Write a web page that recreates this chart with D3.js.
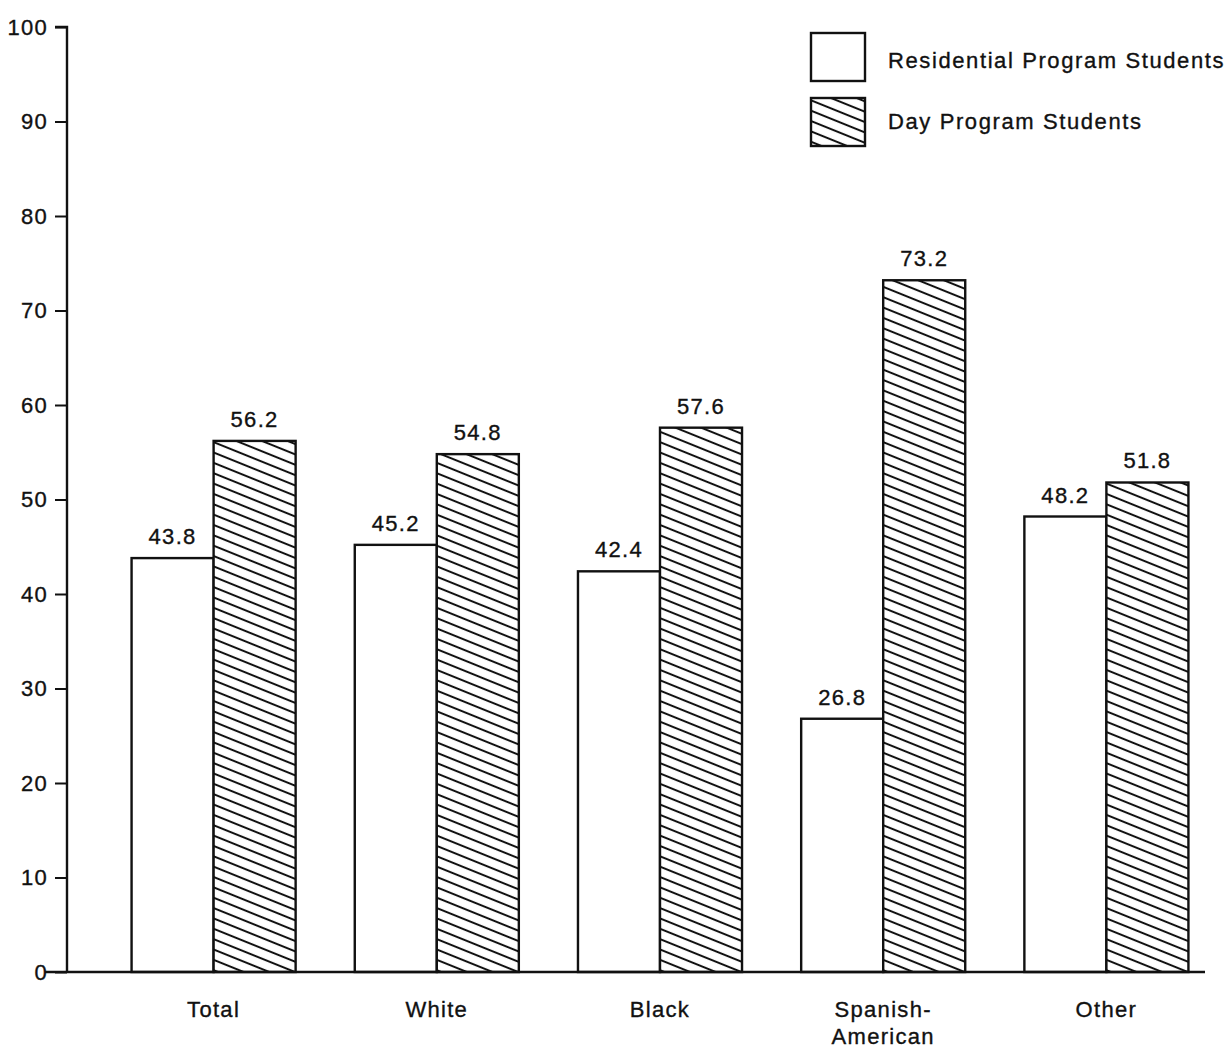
<!DOCTYPE html>
<html>
<head>
<meta charset="utf-8">
<script src="https://cdn.jsdelivr.net/npm/d3@7"></script>
<style>
  html, body { margin: 0; padding: 0; background: #fff; }
  svg { display: block; font-family: "Liberation Sans", Arial, Helvetica, sans-serif; }
  text { fill: #111; stroke: #111; stroke-width: 0.35; }
</style>
</head>
<body>
<svg id="chart" width="1230" height="1049"></svg>
<script>
// Ethnic groups along the x axis (a label may wrap onto two lines)
const categories = ["Total", "White", "Black", "Spanish-American", "Other"];
const categoryLines = [["Total"], ["White"], ["Black"], ["Spanish-", "American"], ["Other"]];
// Percent of students in each program
const residential = [43.8, 45.2, 42.4, 26.8, 48.2];
const dayProgram = [56.2, 54.8, 57.6, 73.2, 51.8];
const seriesNames = ["Residential Program Students", "Day Program Students"];
const yTicks = [0, 10, 20, 30, 40, 50, 60, 70, 80, 90, 100];

const svg = d3.select("#chart");

const plotTop = 27, plotBottom = 972, axisX = 67;
const fontSize = 22, tracking = 1.3;

const y = d3.scaleLinear().domain([0, 100]).range([plotBottom, plotTop]);
const x0 = d3.scaleBand().domain(categories).range([102, 1218])
  .paddingInner(0.265).paddingOuter(0.1325);
const x1 = d3.scaleBand().domain(["res", "day"]).range([0, x0.bandwidth()]);

// Diagonal hatching for the day-program bars
const defs = svg.append("defs");
const pat = defs.append("pattern")
  .attr("id", "hatch")
  .attr("patternUnits", "userSpaceOnUse")
  .attr("width", 20).attr("height", 9.6)
  .attr("patternTransform", "rotate(22)");
pat.append("rect").attr("width", 20).attr("height", 9.6).attr("fill", "#fff");
pat.append("line").attr("x1", -1).attr("x2", 21).attr("y1", 4.8).attr("y2", 4.8)
  .attr("stroke", "#111").attr("stroke-width", 2);

// Y axis
const yAxis = d3.axisLeft(y).tickValues(yTicks).tickSize(12).tickPadding(7);
const gy = svg.append("g").attr("transform", `translate(${axisX},0)`).call(yAxis);
gy.select(".domain").attr("stroke", "#111").attr("stroke-width", 2.4)
  .attr("d", `M-12,${plotTop}H0V${plotBottom}`);
gy.selectAll(".tick line").attr("stroke", "#111").attr("stroke-width", 2);
gy.selectAll(".tick text")
  .attr("font-size", fontSize)
  .attr("font-family", "'Liberation Sans', Arial, sans-serif")
  .attr("fill", "#111")
  .style("letter-spacing", tracking + "px");

// Bars
const groups = svg.append("g").selectAll("g")
  .data(categories)
  .join("g")
  .attr("transform", d => `translate(${x0(d)},0)`);

groups.each(function(c, i) {
  const g = d3.select(this);
  const vals = [["res", residential[i]], ["day", dayProgram[i]]];
  vals.forEach(([k, v]) => {
    g.append("rect")
      .attr("x", x1(k))
      .attr("y", y(v))
      .attr("width", x1.bandwidth())
      .attr("height", y(0) - y(v))
      .attr("fill", k === "day" ? "url(#hatch)" : "#fff")
      .attr("stroke", "#111")
      .attr("stroke-width", 2.4);
    g.append("text")
      .attr("x", x1(k) + x1.bandwidth() / 2)
      .attr("y", y(v) - 14)
      .attr("text-anchor", "middle")
      .attr("font-size", fontSize)
      .style("letter-spacing", tracking + "px")
      .text(v.toFixed(1));
  });
});

// Baseline
svg.append("line")
  .attr("x1", 45).attr("x2", 1205)
  .attr("y1", y(0)).attr("y2", y(0))
  .attr("stroke", "#111").attr("stroke-width", 2.4);

// Category labels
groups.append("text")
  .attr("text-anchor", "middle")
  .attr("font-size", fontSize)
  .style("letter-spacing", tracking + "px")
  .each(function(c, i) {
    const t = d3.select(this);
    categoryLines[i].forEach((line, j) => {
      t.append("tspan")
        .attr("x", x0.bandwidth() / 2)
        .attr("y", plotBottom + 45 + j * 27)
        .text(line);
    });
  });

// Legend
const legend = svg.append("g").attr("transform", "translate(811,33)");
seriesNames.forEach((name, i) => {
  const ly = i * 65;
  legend.append("rect")
    .attr("x", 0).attr("y", ly)
    .attr("width", 54).attr("height", 48)
    .attr("fill", i === 1 ? "url(#hatch)" : "#fff")
    .attr("stroke", "#111").attr("stroke-width", 2.4);
  legend.append("text")
    .attr("x", 77).attr("y", ly + 35 - i * 4)
    .attr("font-size", fontSize)
    .style("letter-spacing", "1.6px")
    .text(name);
});
</script>
</body>
</html>
